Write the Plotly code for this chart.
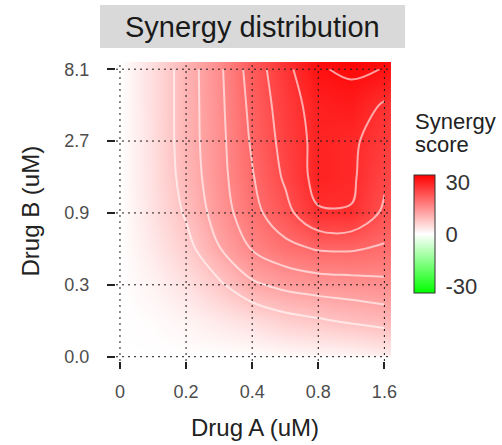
import plotly.graph_objects as go

# ---- data -------------------------------------------------------------
drug_a_labels = ["0", "0.2", "0.4", "0.8", "1.6"]          # Drug A (uM)
drug_b_labels = ["0.0", "0.3", "0.9", "2.7", "8.1"]        # Drug B (uM)
dose_index = [0, 1, 2, 3, 4]                               # evenly spaced dose positions

grid_a = [0, 0.5, 1, 1.5, 2, 2.5, 3, 3.5, 4, 4.1]
grid_b = [0, 0.5, 1, 1.5, 2, 2.5, 3, 3.5, 4, 4.1]
synergy = [
    [0, 0.0, 0.0, 0.0, 0.0, 0.5, 0.8, 1.0, 2.0, 2.2],
    [0, 0.5, 1.5, 3.0, 4.5, 6.5, 7.5, 8.6, 9.5, 9.7],
    [0, 1.6, 4.0, 7.3, 11.3, 13.1, 14.0, 14.4, 15.0, 15.1],
    [0, 3.0, 6.5, 11.8, 16.2, 18.8, 20.3, 20.4, 19.4, 19.4],
    [0, 4.0, 8.5, 13.9, 18.7, 22.7, 27.6, 27.8, 23.2, 23.1],
    [0, 4.3, 9.6, 14.6, 19.7, 24.6, 29.5, 28.6, 24.8, 24.7],
    [0, 4.4, 10.0, 14.8, 20.5, 25.4, 29.3, 28.6, 26.3, 26.1],
    [0, 4.5, 10.0, 15.0, 21.1, 26.0, 29.8, 30.5, 27.5, 27.2],
    [0, 4.5, 10.0, 15.2, 21.8, 26.8, 31.7, 32.6, 31.9, 31.5],
    [0, 4.5, 10.0, 15.3, 22.0, 27.5, 32.5, 33.8, 32.8, 32.3],
]
contour_start, contour_end, contour_step = 8, 32, 4
score_min, score_max = -34, 34
score_ticks = [-30, 0, 30]

# ---- figure -------------------------------------------------------------
FONT = "Liberation Sans, Arial, Helvetica, sans-serif"
colorscale = [[0.0, "#00ff00"], [0.5, "#ffffff"], [1.0, "#ff0000"]]
AX_RANGE = [-0.06, 4.1]

n_core = len([g for g in grid_a if g <= dose_index[-1]])

fill = go.Contour(
    x=grid_a, y=grid_b, z=synergy,
    colorscale=colorscale, zmin=score_min, zmax=score_max, zauto=False,
    contours=dict(coloring="heatmap", showlines=False,
                  start=contour_start, end=contour_end, size=contour_step),
    line=dict(width=0),
    hoverinfo="skip",
    colorbar=dict(
        x=1.0836, xanchor="left", xpad=0,
        y=0.4247, yanchor="middle", ypad=0,
        len=118, lenmode="pixels",
        thickness=21, thicknessmode="pixels",
        outlinewidth=1, outlinecolor="#333333",
        tickvals=score_ticks, ticktext=[str(t) for t in score_ticks],
        ticks="outside", ticklen=6, tickcolor="rgba(0,0,0,0)",
        tickfont=dict(size=22, color="#333333", family=FONT),
    ),
)

lines = go.Contour(
    x=grid_a[:n_core], y=grid_b[:n_core],
    z=[row[:n_core] for row in synergy[:n_core]],
    contours=dict(coloring="none", showlines=True,
                  start=contour_start, end=contour_end, size=contour_step),
    line=dict(color="rgba(255,255,255,0.6)", width=2, smoothing=1),
    showscale=False, hoverinfo="skip",
)

fig = go.Figure([fill, lines])

grid_style = dict(color="#1a1a1a", width=1, dash="2px,4px")
shapes = []
for v in dose_index:
    shapes.append(dict(type="line", xref="x", yref="paper", x0=v, x1=v, y0=0, y1=1,
                       line=grid_style, layer="above"))
    shapes.append(dict(type="line", xref="paper", yref="y", x0=0, x1=1, y0=v, y1=v,
                       line=grid_style, layer="above"))
# title strip
shapes.append(dict(type="rect", xref="paper", yref="paper",
                   x0=-0.058, x1=1.051, y0=1.0468, y1=1.1906,
                   fillcolor="#d9d9d9", line=dict(width=0), layer="below"))

annotations = [
    dict(text="Synergy distribution", xref="paper", yref="paper", x=0.4964, y=1.116,
         xanchor="center", yanchor="middle", showarrow=False,
         font=dict(size=29, color="#1a1a1a", family=FONT)),
    dict(text="Drug A (uM)", xref="paper", yref="paper", x=0.505, y=-0.224,
         xanchor="center", yanchor="middle", showarrow=False,
         font=dict(size=24, color="#222222", family=FONT)),
    dict(text="Drug B (uM)", xref="paper", yref="paper", x=-0.3127, y=0.5,
         xanchor="center", yanchor="middle", showarrow=False, textangle=-90,
         font=dict(size=24, color="#222222", family=FONT)),
    dict(text="Synergy", xref="paper", yref="paper", x=1.08, y=(361 - 121) / 299,
         xanchor="left", yanchor="middle", showarrow=False,
         font=dict(size=22, color="#222222", family=FONT)),
    dict(text="score", xref="paper", yref="paper", x=1.08, y=(361 - 144) / 299,
         xanchor="left", yanchor="middle", showarrow=False,
         font=dict(size=22, color="#222222", family=FONT)),
]

# major ticks are invisible and only space the labels; the short visible
# marks are minor ticks at the same dose positions
mark_vals = [v + 1e-3 for v in dose_index]
axis_common = dict(range=AX_RANGE, tickvals=dose_index,
                   showgrid=False, zeroline=False, showline=False,
                   ticks="outside", tickcolor="rgba(0,0,0,0)")

fig.update_layout(
    width=502, height=445,
    margin=dict(l=116, r=111, t=62, b=84, pad=0),
    paper_bgcolor="white", plot_bgcolor="white",
    showlegend=False,
    shapes=shapes, annotations=annotations,
    xaxis=dict(axis_common, ticktext=drug_a_labels, ticklen=14,
               tickfont=dict(size=18, color="#4d4d4d", family=FONT),
               minor=dict(tickmode="array", tickvals=mark_vals, ticks="outside",
                          ticklen=7, tickwidth=2, tickcolor="#222222",
                          showgrid=False)),
    yaxis=dict(axis_common, ticktext=drug_b_labels, ticklen=22,
               tickfont=dict(size=18, color="#4d4d4d", family=FONT),
               minor=dict(tickmode="array", tickvals=mark_vals, ticks="outside",
                          ticklen=8, tickwidth=2, tickcolor="#222222",
                          showgrid=False)),
)

fig.write_html("out.html")
